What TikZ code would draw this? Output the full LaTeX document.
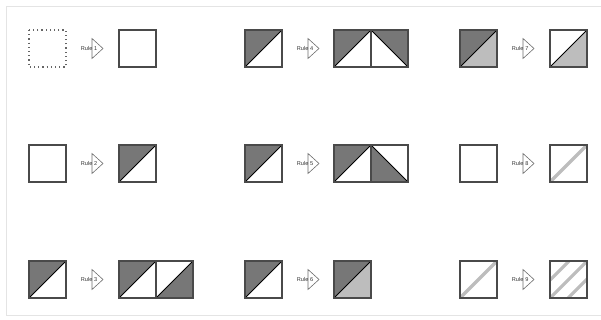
\documentclass[tikz,border=0pt]{standalone}
\usepackage{fontspec}
\setmainfont{Liberation Sans}
\definecolor{darkf}{HTML}{777777}
\definecolor{lightf}{HTML}{BDBDBD}
\definecolor{bord}{HTML}{4A4A4A}
\definecolor{frame}{HTML}{E4E4E4}
\tikzset{
  bx/.style={draw=bord, line width=1.2pt},
  dg/.style={draw=black, line width=0.9pt},
  stripe/.style={draw=lightf, line width=3.2pt},
  arw/.style={draw=bord!80, fill=white, line width=0.6pt, line join=miter},
  lbl/.style={inner sep=0pt, font=\fontsize{5.6}{5.6}\selectfont, text=black!80},
  pics/plain/.style={code={\draw[bx] (0,0) rectangle (37,37);}},
  pics/dotsq/.style={code={\draw[draw=bord!85, line width=1.2pt, dash pattern=on 1.2pt off 3pt] (0,0) rectangle (37,37);}},
  pics/ul/.style={code={\fill[darkf] (0,0)--(37,0)--(0,37)--cycle; \draw[dg] (0,37)--(37,0); \draw[bx] (0,0) rectangle (37,37);}},
  pics/lr/.style={code={\fill[darkf] (37,0)--(37,37)--(0,37)--cycle; \draw[dg] (0,37)--(37,0); \draw[bx] (0,0) rectangle (37,37);}},
  pics/ur/.style={code={\fill[darkf] (0,0)--(37,0)--(37,37)--cycle; \draw[dg] (0,0)--(37,37); \draw[bx] (0,0) rectangle (37,37);}},
  pics/ll/.style={code={\fill[darkf] (0,0)--(37,37)--(0,37)--cycle; \draw[dg] (0,0)--(37,37); \draw[bx] (0,0) rectangle (37,37);}},
  pics/ullr/.style={code={\fill[darkf] (0,0)--(37,0)--(0,37)--cycle; \fill[lightf] (37,0)--(37,37)--(0,37)--cycle; \draw[dg] (0,37)--(37,0); \draw[bx] (0,0) rectangle (37,37);}},
  pics/wlr/.style={code={\fill[lightf] (37,0)--(37,37)--(0,37)--cycle; \draw[dg] (0,37)--(37,0); \draw[bx] (0,0) rectangle (37,37);}},
  pics/onestripe/.style={code={\begin{scope}\clip (0,0) rectangle (37,37); \draw[stripe] (0,37)--(37,0);\end{scope} \draw[bx] (0,0) rectangle (37,37);}},
  pics/threestripe/.style={code={\begin{scope}\clip (0,0) rectangle (37,37); \draw[stripe] (0,37)--(37,0); \draw[stripe] (0,19)--(19,0); \draw[stripe] (18,37)--(37,18);\end{scope} \draw[bx] (0,0) rectangle (37,37);}},
  pics/rulearrow/.style={code={\draw[arw] (0,-10)--(11,0)--(0,10)--cycle; \node[lbl,anchor=east] at (0.6,0) {Rule}; \node[lbl] at (3.8,0) {#1};}}
}
\begin{document}
\begin{tikzpicture}[x=1pt,y=-1pt]
\useasboundingbox (0,0) rectangle (601,320);
\draw[frame, line width=0.8pt] (601,6) -- (6,6) -- (6,315) -- (601,315);
% row 1
\pic (a1) at (29,30) {dotsq};
\pic (a1r) at (92,48.5) {rulearrow=1};
\pic (a1o) at (119,30) {plain};
\pic (b1) at (245,30) {ul};
\pic (b1r) at (308,48.5) {rulearrow=4};
\pic (b1o) at (334,30) {ul};
\pic (b1p) at (371,30) {ur};
\pic (c1) at (460,30) {ullr};
\pic (c1r) at (523,48.5) {rulearrow=7};
\pic (c1o) at (550,30) {wlr};
% row 2
\pic (a2) at (29,145) {plain};
\pic (a2r) at (92,163.5) {rulearrow=2};
\pic (a2o) at (119,145) {ul};
\pic (b2) at (245,145) {ul};
\pic (b2r) at (308,163.5) {rulearrow=5};
\pic (b2o) at (334,145) {ul};
\pic (b2p) at (371,145) {ll};
\pic (c2) at (460,145) {plain};
\pic (c2r) at (523,163.5) {rulearrow=8};
\pic (c2o) at (550,145) {onestripe};
% row 3
\pic (a3) at (29,261) {ul};
\pic (a3r) at (92,279.5) {rulearrow=3};
\pic (a3o) at (119,261) {ul};
\pic (a3p) at (156,261) {lr};
\pic (b3) at (245,261) {ul};
\pic (b3r) at (308,279.5) {rulearrow=6};
\pic (b3o) at (334,261) {ullr};
\pic (c3) at (460,261) {onestripe};
\pic (c3r) at (523,279.5) {rulearrow=9};
\pic (c3o) at (550,261) {threestripe};
\end{tikzpicture}
\end{document}
